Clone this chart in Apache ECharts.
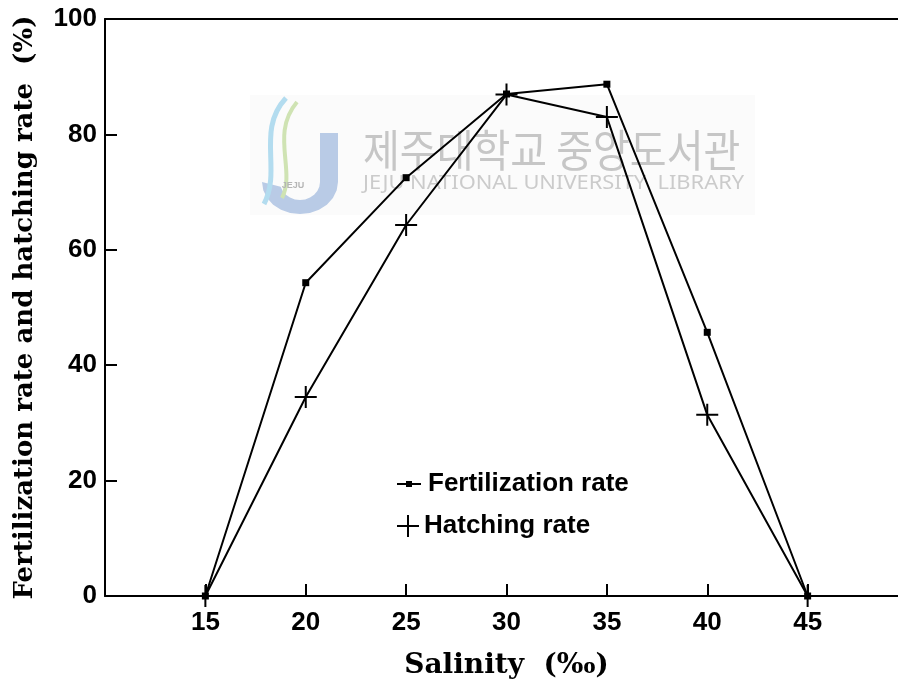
<!DOCTYPE html>
<html>
<head>
<meta charset="utf-8">
<title>Fertilization and hatching rate vs salinity</title>
<script src="https://cdn.jsdelivr.net/npm/echarts@6/dist/echarts.min.js"></script>
<style>
  html, body { margin: 0; padding: 0; background: #fff; }
  #chart { width: 898px; height: 679px; }
</style>
</head>
<body>
<div id="chart"></div>
<script>
// Salinity levels (‰) tested
const salinity = [15, 20, 25, 30, 35, 40, 45];
// Fertilization rate (%) at each salinity
const fertilization = [0, 54.3, 72.5, 87.0, 88.7, 45.7, 0];
// Hatching rate (%) at each salinity
const hatching = [0, 34.5, 64.3, 86.9, 83.0, 31.4, 0];
// Axis tick values
const xTicks = [15, 20, 25, 30, 35, 40, 45];
const yTicks = [0, 20, 40, 60, 80, 100];

const SANS = 'Liberation Sans, Arial, Helvetica, sans-serif';
const SERIF = 'DejaVu Serif, serif';

const crossPath = 'path://M10,0h2v22h-2zM0,10h22v2h-22z';
const lineDotPath = 'path://M0,2.1h24v1.8h-24zM9,0h6v6h-6z';

// Outline of the "J" in the library logo: a vertical stem bending into a bowl
function jOutline() {
  const pts = [[320, 133], [338, 133], [338, 182]];
  // outer bowl
  for (let a = 0; a <= 180; a += 15) {
    const r = a * Math.PI / 180;
    pts.push([300 + 38 * Math.cos(r), 182 + 32 * Math.sin(r)]);
  }
  // inner bowl (back)
  for (let a = 165; a >= 0; a -= 15) {
    const r = a * Math.PI / 180;
    pts.push([300 + 20 * Math.cos(r), 182 + 18 * Math.sin(r)]);
  }
  return pts;
}

const chart = echarts.init(document.getElementById('chart'), null, { renderer: 'canvas' });

chart.setOption({
  animation: false,
  backgroundColor: '#ffffff',
  color: ['#000000', '#000000'],
  grid: {
    left: 105, top: 19, width: 803, height: 577,
    containLabel: false,
    outerBoundsMode: 'none'
  },
  xAxis: [
    {
      type: 'value',
      min: 10,
      max: 50,
      interval: 5,
      name: 'Salinity  (‰)',
      nameLocation: 'middle',
      nameGap: 56,
      nameTextStyle: { fontFamily: SERIF, fontWeight: 'bold', fontSize: 28, color: '#000' },
      axisLine: { show: true, lineStyle: { color: '#000', width: 2 } },
      axisTick: {
        show: true, inside: true, length: 12,
        lineStyle: { color: '#000', width: 2 }
      },
      axisLabel: {
        margin: 14,
        fontFamily: SANS, fontWeight: 'bold', fontSize: 26, color: '#000',
        formatter: v => (xTicks.indexOf(v) >= 0 ? String(v) : '')
      },
      splitLine: { show: false }
    },
    {
      // upper frame line
      type: 'value',
      position: 'top',
      min: 10,
      max: 50,
      axisLine: { show: true, lineStyle: { color: '#000', width: 2 } },
      axisTick: { show: false },
      axisLabel: { show: false },
      splitLine: { show: false }
    }
  ],
  yAxis: {
    type: 'value',
    min: 0,
    max: 100,
    interval: 20,
    name: 'Fertilization rate and hatching rate  (%)',
    nameLocation: 'middle',
    nameRotate: 90,
    nameGap: 67,
    nameTextStyle: { fontFamily: SERIF, fontWeight: 'bold', fontSize: 26, color: '#000' },
    axisLine: { show: true, lineStyle: { color: '#000', width: 2 } },
    axisTick: {
      show: true, inside: true, length: 12,
      lineStyle: { color: '#000', width: 2 }
    },
    axisLabel: {
      margin: 8,
      fontFamily: SANS, fontWeight: 'bold', fontSize: 26, color: '#000',
      formatter: v => (yTicks.indexOf(v) >= 0 ? String(v) : '')
    },
    splitLine: { show: false }
  },
  legend: [
    {
      data: [{ name: 'Fertilization rate', icon: lineDotPath }],
      orient: 'vertical',
      left: 392,
      top: 466,
      itemWidth: 24,
      itemHeight: 6,
      textStyle: { fontFamily: SANS, fontWeight: 'bold', fontSize: 26, color: '#000', padding: [0, 0, 0, 2] },
      selectedMode: false
    },
    {
      data: [{ name: 'Hatching rate', icon: crossPath }],
      orient: 'vertical',
      left: 392,
      top: 508,
      itemWidth: 22,
      itemHeight: 22,
      textStyle: { fontFamily: SANS, fontWeight: 'bold', fontSize: 26, color: '#000', padding: [0, 0, 0, 0] },
      selectedMode: false
    }
  ],
  graphic: [
    {
      // library watermark backdrop
      type: 'rect',
      silent: true,
      z: -10,
      shape: { x: 250, y: 95, width: 505, height: 120 },
      style: { fill: '#fbfbfb' }
    },
    {
      type: 'polygon',
      silent: true,
      z: -9,
      shape: { points: jOutline() },
      style: { fill: '#b9cbe6' }
    },
    {
      type: 'bezierCurve',
      silent: true,
      z: -9,
      shape: { x1: 286, y1: 98, cpx1: 256, cpy1: 130, cpx2: 282, cpy2: 170, x2: 264, y2: 204 },
      style: { stroke: '#b3dcef', lineWidth: 5, fill: null }
    },
    {
      type: 'bezierCurve',
      silent: true,
      z: -9,
      shape: { x1: 297, y1: 102, cpx1: 270, cpy1: 134, cpx2: 296, cpy2: 170, x2: 282, y2: 198 },
      style: { stroke: '#cfe3b3', lineWidth: 4, fill: null }
    },
    {
      type: 'text',
      silent: true,
      z: -8,
      x: 293, y: 186,
      style: { text: 'JEJU', fill: '#b5b5b5', font: 'bold 9px ' + SANS, textAlign: 'center', textVerticalAlign: 'middle' }
    },
    {
      type: 'text',
      silent: true,
      z: -9,
      x: 363, y: 128,
      scaleX: 0.91,
      style: { text: '제주대학교 중앙도서관', fill: '#c6c6c6', font: '44px "Noto Sans CJK KR"', textAlign: 'left', textVerticalAlign: 'top' }
    },
    {
      type: 'text',
      silent: true,
      z: -9,
      x: 363, y: 174,
      scaleX: 1.15,
      style: { text: 'JEJU NATIONAL UNIVERSITY  LIBRARY', fill: '#cbcbcb', font: '19px "Noto Sans"', textAlign: 'left', textVerticalAlign: 'top' }
    }
  ],
  series: [
    {
      name: 'Fertilization rate',
      type: 'line',
      xAxisIndex: 0,
      data: salinity.map((s, i) => [s, fertilization[i]]),
      symbol: 'rect',
      symbolSize: 7,
      showAllSymbol: true,
      lineStyle: { color: '#000', width: 2 },
      itemStyle: { color: '#000' },
      z: 3
    },
    {
      name: 'Hatching rate',
      type: 'line',
      xAxisIndex: 0,
      data: salinity.map((s, i) => [s, hatching[i]]),
      symbol: crossPath,
      symbolSize: 22,
      showAllSymbol: true,
      lineStyle: { color: '#000', width: 2 },
      itemStyle: { color: '#000' },
      z: 3
    }
  ]
});
</script>
</body>
</html>
